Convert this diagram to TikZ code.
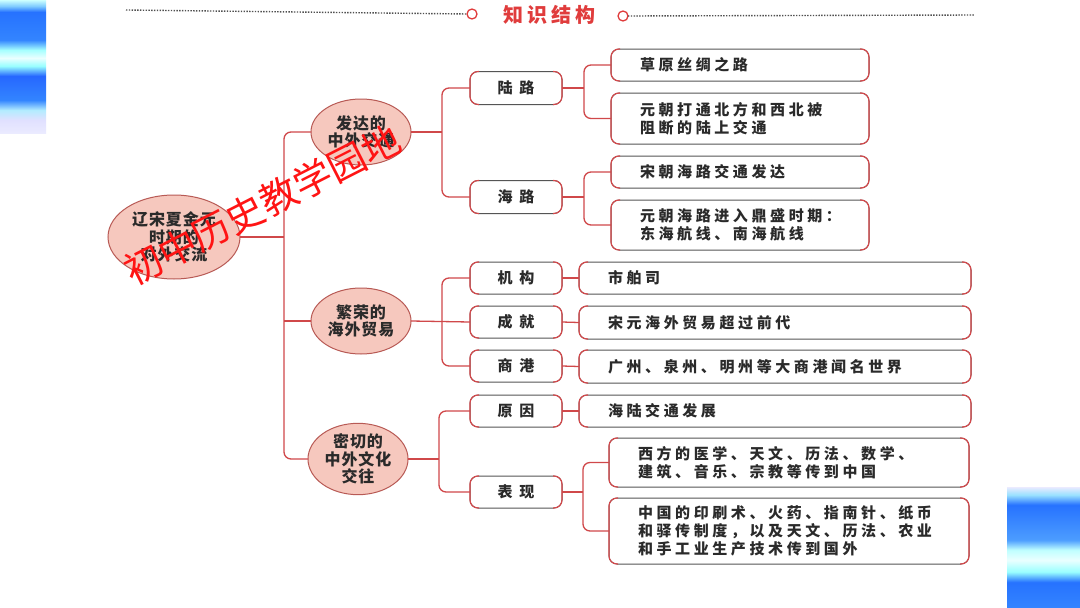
\documentclass[tikz,border=0pt]{standalone}
\usepackage{fontspec}
\usetikzlibrary{shapes.geometric}
\newfontfamily\cjk{Noto Sans CJK SC}
\newfontfamily\cjkls{Noto Sans CJK SC}[LetterSpace=24]
\newfontfamily\cjklab{Noto Sans CJK SC}[LetterSpace=45]
\newfontfamily\cjkell{Noto Sans CJK SC}[LetterSpace=6]
\newfontfamily\cjktitle{Noto Sans CJK SC}[LetterSpace=20]
\definecolor{lineRed}{HTML}{D0484A}
\definecolor{sideRed}{HTML}{D8474A}
\definecolor{boxGray}{HTML}{555555}
\definecolor{ellFill}{HTML}{F6C8BE}
\definecolor{ellBorder}{HTML}{B85A55}
\definecolor{txt}{HTML}{2A2A2A}
\definecolor{titleRed}{HTML}{E03C3C}
\definecolor{wmRed}{HTML}{FF1414}
\definecolor{dotGray}{HTML}{505050}
\pgfdeclareverticalshading{decoL}{100bp}{%
 color(0bp)=(white!90!blue);
 color(25bp)=(white!92!blue);
 color(29.9bp)=(white!88!blue);
 color(33.6bp)=(blue!25!cyan!30!white);
 color(37.4bp)=(blue!60!cyan!80!white);
 color(46.4bp)=(blue!70!cyan!85!white);
 color(50.2bp)=(cyan!40!white);
 color(53.2bp)=(cyan!8!white);
 color(56.2bp)=(cyan!35!white);
 color(60bp)=(blue!60!cyan!80!white);
 color(70.5bp)=(blue!65!cyan!85!white);
 color(72.7bp)=(blue!40!cyan!50!white);
 color(75bp)=(cyan!20!white);
 color(100bp)=(cyan!20!white)}
\pgfdeclareverticalshading{decoR}{100bp}{%
 color(0bp)=(blue!60!cyan!80!white);
 color(25bp)=(blue!60!cyan!80!white);
 color(35.7bp)=(blue!65!cyan!85!white);
 color(39.9bp)=(cyan!40!white);
 color(44.8bp)=(cyan!8!white);
 color(49bp)=(cyan!25!white);
 color(53.1bp)=(blue!55!cyan!70!white);
 color(67.6bp)=(blue!65!cyan!85!white);
 color(71.7bp)=(blue!30!cyan!40!white);
 color(75bp)=(blue!8!white);
 color(100bp)=(blue!8!white)}
\begin{document}
\begin{tikzpicture}[x=1pt,y=-1pt,
  conn/.style={draw=lineRed, line width=1.3pt, rounded corners=7pt},
  ell/.style={ellipse, draw=ellBorder, fill=ellFill, line width=1pt, inner sep=0pt, outer sep=0pt,
    align=center, text=txt, font=\cjkell\bfseries\fontsize{16}{17.5}\selectfont},
  lab/.style={rectangle, rounded corners=8pt, draw=boxGray, line width=1pt, minimum width=92pt,
    minimum height=33pt, inner sep=0pt, outer sep=0pt, text=txt, font=\cjklab\bfseries\fontsize{15}{18}\selectfont},
  det/.style={rectangle, rounded corners=8pt, draw=boxGray, line width=1pt, inner xsep=29pt,
    inner ysep=0pt, outer sep=0pt, align=left, text=txt, font=\cjkls\bfseries\fontsize{15}{18}\selectfont},
  redside/.style={draw=sideRed, line width=1.1pt, rounded corners=8pt},
  tcirc/.style={circle, draw=titleRed, line width=1.3pt, minimum size=10pt, inner sep=0pt, outer sep=0pt},
  dotline/.style={draw=dotGray, line width=1.4pt, dash pattern=on 1.4pt off 1.4pt}
]
\useasboundingbox (0,0) rectangle (1080,608);
\fill[white] (0,0) rectangle (1080,608);
% decorations
\shade[shading=decoL] (0,0) rectangle (46,133);
\shade[shading=decoR] (1007,487) rectangle (1080,608);

% title
\node[tcirc] (tc1) at (472,14) {};
\node[tcirc] (tc2) at (623,16) {};
\node[text=titleRed, font=\cjktitle\bfseries\fontsize{20}{22}\selectfont] (title) at (549,15) {知识结构};
\coordinate (tl) at (126,10);
\coordinate (tr) at (975,15);
\draw[dotline] (tl) -- (tc1.west);
\draw[dotline] (tc2.east) -- (tr);

% level 0 and 1
\node[ell, minimum width=132pt, minimum height=84pt] (root) at (174,237) {辽宋夏金元\\时期的\\对外交流};
\node[ell, minimum width=100pt, minimum height=66pt] (e1) at (361,132) {发达的\\中外交通};
\node[ell, minimum width=100pt, minimum height=66pt] (e2) at (361,321) {繁荣的\\海外贸易};
\node[ell, minimum width=100pt, minimum height=66pt] (e3) at (358,459) {密切的\\中外文化\\交往};

% level 2
\node[lab] (lu) at (516,88) {陆路};
\node[lab] (hai) at (516,197) {海路};
\node[lab, minimum height=32pt] (jg) at (516,278) {机构};
\node[lab, minimum height=32pt] (cj) at (516,322) {成就};
\node[lab, minimum height=32pt] (sg) at (516,366) {商港};
\node[lab, minimum height=32pt] (yy) at (516,411) {原因};
\node[lab, minimum height=32pt] (bx) at (516,492) {表现};

% level 3
\node[det, text width=200pt, minimum height=32pt] (d1) at (740,65) {草原丝绸之路};
\node[det, text width=200pt, minimum height=51pt] (d2) at (740,118.5) {元朝打通北方和西北被\\阻断的陆上交通};
\node[det, text width=200pt, minimum height=32pt] (d3) at (740,172) {宋朝海路交通发达};
\node[det, text width=200pt, minimum height=50pt] (d4) at (740,225) {元朝海路进入鼎盛时期：\\东海航线、南海航线};
\node[det, text width=334pt, minimum height=32pt] (d5) at (775,278) {市舶司};
\node[det, text width=334pt, minimum height=33pt] (d6) at (775,322.5) {宋元海外贸易超过前代};
\node[det, text width=334pt, minimum height=33pt] (d7) at (775,366.5) {广州、泉州、明州等大商港闻名世界};
\node[det, text width=334pt, minimum height=32pt] (d8) at (775,411) {海陆交通发展};
\node[det, text width=302pt, minimum height=49pt] (d9) at (789,462.5) {西方的医学、天文、历法、数学、\\建筑、音乐、宗教等传到中国};
\node[det, text width=302pt, minimum height=66pt] (d10) at (789,531) {中国的印刷术、火药、指南针、纸币\\和驿传制度，以及天文、历法、农业\\和手工业生产技术传到国外};

% red sides of boxes
\foreach \n in {lu,hai,jg,cj,sg,yy,bx,d1,d2,d3,d4,d5,d6,d7,d8,d9,d10}{
  \draw[redside] ([xshift=9pt]\n.north west) -- (\n.north west) -- (\n.south west) -- ([xshift=9pt]\n.south west);
  \draw[redside] ([xshift=-9pt]\n.north east) -- (\n.north east) -- (\n.south east) -- ([xshift=-9pt]\n.south east);
}

% trunk coordinates
\coordinate (trunk) at (284,0);
\coordinate (b1) at (442,0);
\coordinate (b2) at (442,0);
\coordinate (b3) at (439,0);
\coordinate (c1) at (584,0);
\coordinate (c3) at (583,0);

% connectors
\draw[conn] (e1.west) -- (e1.west -| trunk) |- (e3.west);
\draw[conn] (root.east) -- (root.east -| trunk);
\draw[conn] (e2.west -| trunk) -- (e2.west);

\draw[conn] (lu.west) -- (lu.west -| b1) |- (hai.west);
\draw[conn] (e1.east) -- (e1.east -| b1);
\draw[conn] (jg.west) -- (jg.west -| b2) |- (sg.west);
\draw[conn] (e2.east) -- (cj.west);
\draw[conn] (yy.west) -- (yy.west -| b3) |- (bx.west);
\draw[conn] (e3.east) -- (e3.east -| b3);

\draw[conn] (d1.west) -- (d1.west -| c1) |- (d2.west);
\draw[conn] (lu.east) -- (lu.east -| c1);
\draw[conn] (d3.west) -- (d3.west -| c1) |- (d4.west);
\draw[conn] (hai.east) -- (hai.east -| c1);
\draw[conn] (jg.east) -- (d5.west);
\draw[conn] (cj.east) -- (d6.west);
\draw[conn] (sg.east) -- (d7.west);
\draw[conn] (yy.east) -- (d8.west);
\draw[conn] (d9.west) -- (d9.west -| c3) |- (d10.west);
\draw[conn] (bx.east) -- (bx.east -| c3);

% watermark
\node[rotate=27, text=wmRed, font=\cjk\fontsize{38}{40}\selectfont, inner sep=0pt] (wm) at (262,205) {初中历史教学园地};
\end{tikzpicture}
\end{document}
